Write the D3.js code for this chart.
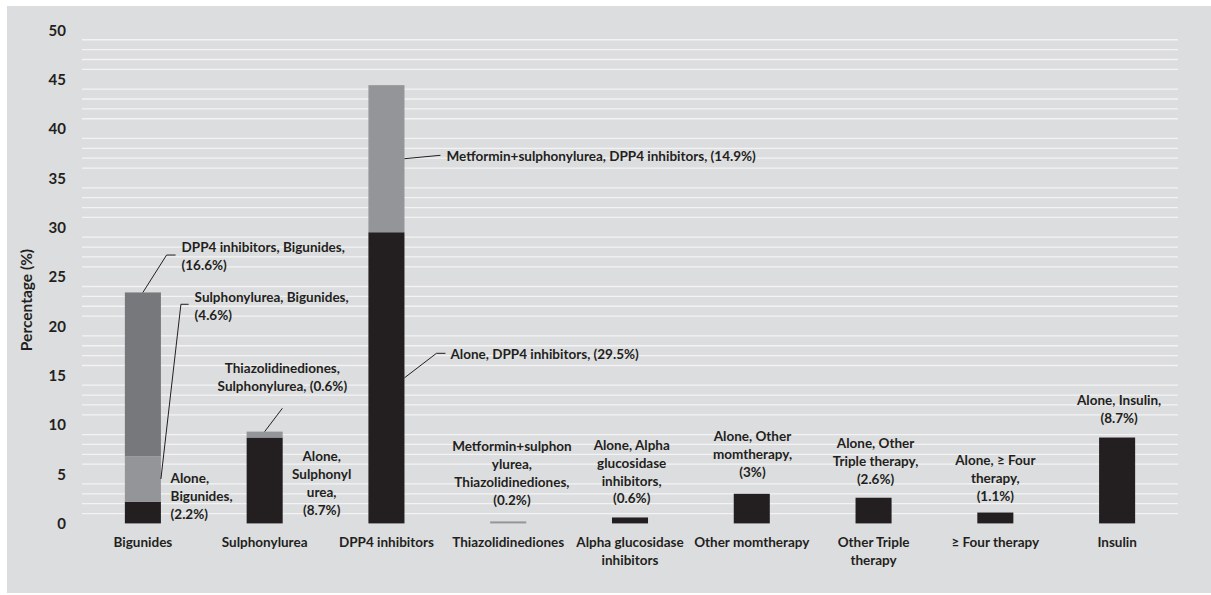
<!DOCTYPE html>
<html>
<head>
<meta charset="utf-8">
<script src="https://cdn.jsdelivr.net/npm/d3@7"></script>
<style>
  html, body { margin: 0; padding: 0; background: #ffffff; }
  svg { display: block; }
  text { font-family: Lato, "Open Sans", sans-serif; font-weight: bold; fill: #231f20; }
</style>
</head>
<body>
<svg id="chart" width="1211" height="595"></svg>
<script>
// ---------- data ----------
const categories = ["Bigunides", "Sulphonylurea", "DPP4 inhibitors", "Thiazolidinediones",
  "Alpha glucosidase inhibitors", "Other momtherapy", "Other Triple therapy", "≥ Four therapy", "Insulin"];
const categoryLines = [["Bigunides"], ["Sulphonylurea"], ["DPP4 inhibitors"], ["Thiazolidinediones"],
  ["Alpha glucosidase", "inhibitors"], ["Other momtherapy"], ["Other Triple", "therapy"], ["≥ Four therapy"], ["Insulin"]];
const aloneValues  = [2.2, 8.7, 29.5, 0, 0.6, 3, 2.6, 1.1, 8.7];
const secondValues = [4.6, 0.6, 14.9, 0.2, 0, 0, 0, 0, 0];
const thirdValues  = [16.6, 0, 0, 0, 0, 0, 0, 0, 0];
const yTicks = [0, 5, 10, 15, 20, 25, 30, 35, 40, 45, 50];
const yTitle = "Percentage (%)";
const segmentLabels = [
  ["DPP4 inhibitors, Bigunides,", "(16.6%)"],
  ["Sulphonylurea, Bigunides,", "(4.6%)"],
  ["Alone,", "Bigunides,", "(2.2%)"],
  ["Thiazolidinediones,", "Sulphonylurea, (0.6%)"],
  ["Alone,", "Sulphonyl", "urea,", "(8.7%)"],
  ["Metformin+sulphonylurea, DPP4 inhibitors, (14.9%)"],
  ["Alone, DPP4 inhibitors, (29.5%)"],
  ["Metformin+sulphon", "ylurea,", "Thiazolidinediones,", "(0.2%)"],
  ["Alone, Alpha", "glucosidase", "inhibitors,", "(0.6%)"],
  ["Alone, Other", "momtherapy,", "(3%)"],
  ["Alone, Other", "Triple therapy,", "(2.6%)"],
  ["Alone, ≥ Four", "therapy,", "(1.1%)"],
  ["Alone, Insulin,", "(8.7%)"]
];
const segmentLabelCategory = [0, 0, 0, 1, 1, 2, 2, 3, 4, 5, 6, 7, 8];

// ---------- layout (pixels, relative to scale anchors) ----------
const labelLayout = [
  {anchor: "top",   at: "total", leader: [[0,0],[23.7,-37.4],[32.7,-37.4]], tx: 38.7, ty: -45.1, align: "start"},
  {anchor: "right", at: "mid2",  leader: [[0,0],[20,-174.7],[27.7,-174.7]], tx: 33.7, ty: -181.7, align: "start"},
  {anchor: "right", at: "zero",  leader: null, tx: 9.7, ty: -45.1, align: "start"},
  {anchor: "top",   at: "total", leader: [[0,0],[17.7,-23.3]], tx: 17.7, ty: -63.3, align: "middle"},
  {anchor: "right", at: "zero",  leader: null, tx: 39, ty: -66.7, align: "middle"},
  {anchor: "right", at: "mid2",  leader: [[0,0],[36,-3.4]], tx: 42, ty: -2, align: "start"},
  {anchor: "right", at: "mid1",  leader: [[0,0],[32,-24.5],[41,-24.5]], tx: 46, ty: -23.8, align: "start"},
  {anchor: "top",   at: "zero",  leader: null, tx: 3.7, ty: -76.7, align: "middle"},
  {anchor: "top",   at: "zero",  leader: null, tx: 1.7, ty: -78.4, align: "middle"},
  {anchor: "top",   at: "total", leader: null, tx: 0.7, ty: -57.1, align: "middle"},
  {anchor: "top",   at: "total", leader: null, tx: 2, ty: -54.4, align: "middle"},
  {anchor: "top",   at: "total", leader: null, tx: 0, ty: -52.5, align: "middle"},
  {anchor: "top",   at: "total", leader: null, tx: 2, ty: -36.8, align: "middle"}
];

const W = 1211, H = 595;
const svg = d3.select("#chart");
const colors = {alone: "#231f20", second: "#939598", third: "#77787b"};
const lineH = 17.9;
const labelSize = "13.5px";

svg.append("rect").attr("x", 7).attr("y", 6).attr("width", W - 7).attr("height", 587).attr("fill", "#dcdddf");

const x = d3.scaleBand().domain(categories).range([82, 1178]).paddingInner(0.704).paddingOuter(0.352);
const y = d3.scaleLinear().domain([0, 50]).range([523.4, 29.9]);

// minor gridlines (every unit except the labelled ticks)
const minor = d3.range(1, 50).filter(v => v % 5 !== 0);
svg.append("g").selectAll("line").data(minor).join("line")
  .attr("x1", 82).attr("x2", 1178)
  .attr("y1", d => y(d)).attr("y2", d => y(d))
  .attr("stroke", "#f3f3f4").attr("stroke-width", 1.3);

// y axis labels
const yAxis = d3.axisLeft(y).tickValues(yTicks).tickSize(0).tickPadding(0);
const gy = svg.append("g").attr("transform", "translate(66,0)").call(yAxis);
gy.select(".domain").remove();
gy.selectAll("text").style("font-family", "Lato, sans-serif").style("font-weight", "bold")
  .style("font-size", "15px").attr("fill", "#231f20").attr("dy", "0.35em");

svg.append("text").attr("transform", "translate(27,300) rotate(-90)")
  .attr("text-anchor", "middle").attr("dy", "0.35em").style("font-size", "15.5px").text(yTitle);

// stacked bars
const stackData = categories.map((c, i) => ({cat: c, alone: aloneValues[i], second: secondValues[i], third: thirdValues[i]}));
const series = d3.stack().keys(["alone", "second", "third"])(stackData);
svg.append("g").selectAll("g").data(series).join("g")
  .attr("fill", d => colors[d.key])
  .selectAll("rect").data(d => d.filter(s => s[1] - s[0] > 0)).join("rect")
  .attr("x", d => x(d.data.cat)).attr("width", x.bandwidth())
  .attr("y", d => y(d[1])).attr("height", d => y(d[0]) - y(d[1]));

// category labels
const cg = svg.append("g");
categories.forEach((c, i) => {
  const cx = x(c) + x.bandwidth() / 2;
  const t = cg.append("text").attr("text-anchor", "middle").style("font-size", labelSize);
  categoryLines[i].forEach((ln, k) => t.append("tspan").attr("x", cx)
    .attr("y", 542.3 + k * 18.4).attr("dy", "0.35em").text(ln));
});

// segment labels with leader lines
const lg = svg.append("g");
segmentLabels.forEach((lines, j) => {
  const i = segmentLabelCategory[j];
  const L = labelLayout[j];
  const c = categories[i];
  const total = aloneValues[i] + secondValues[i] + thirdValues[i];
  let v = 0;
  if (L.at === "total") v = total;
  else if (L.at === "mid1") v = aloneValues[i] / 2;
  else if (L.at === "mid2") v = aloneValues[i] + secondValues[i] / 2;
  const ax = L.anchor === "top" ? x(c) + x.bandwidth() / 2 : x(c) + x.bandwidth();
  const ay = y(v);
  if (L.leader) {
    lg.append("path").attr("d", d3.line()(L.leader.map(p => [ax + p[0], ay + p[1]])))
      .attr("fill", "none").attr("stroke", "#231f20").attr("stroke-width", 1);
  }
  const t = lg.append("text").attr("text-anchor", L.align).style("font-size", labelSize);
  lines.forEach((ln, k) => t.append("tspan").attr("x", ax + L.tx).attr("y", ay + L.ty + k * lineH)
    .attr("dy", "0.35em").text(ln));
});
</script>
</body>
</html>
